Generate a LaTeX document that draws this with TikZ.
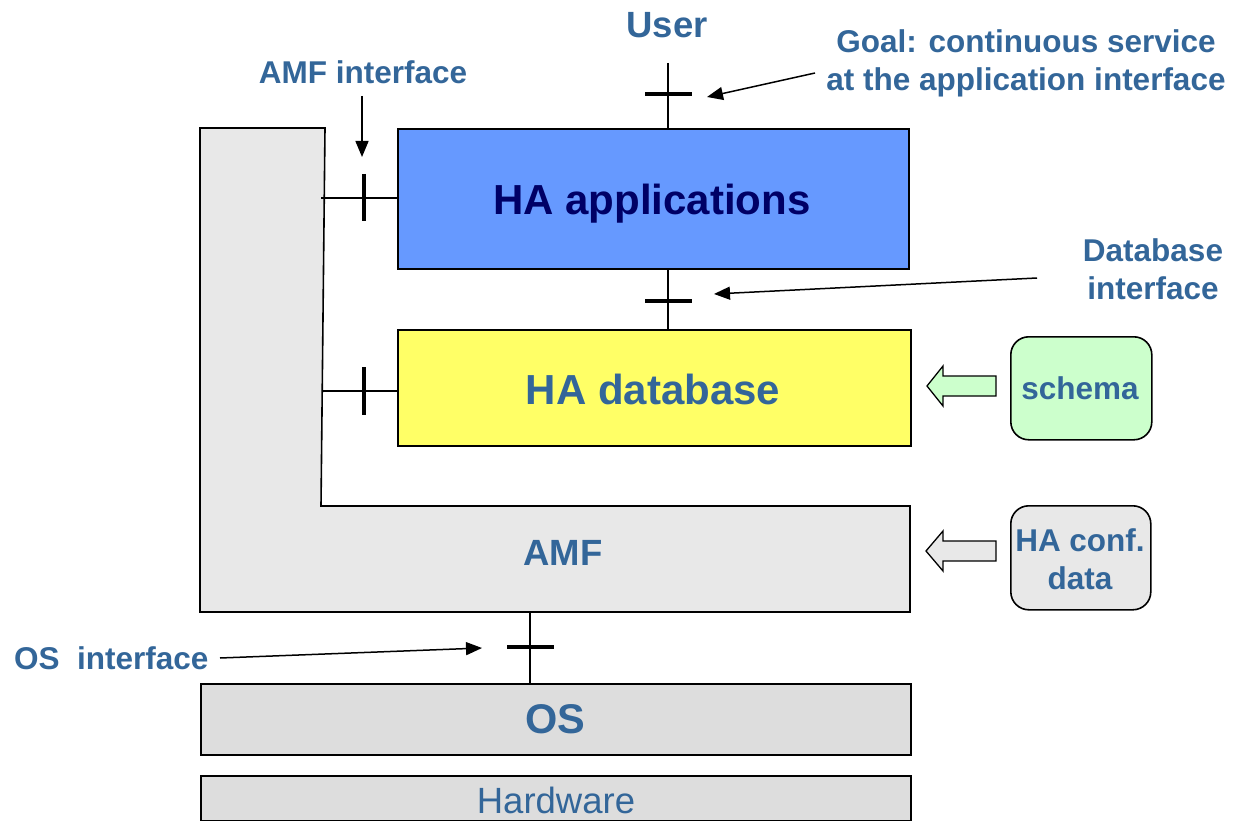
\documentclass[tikz,border=0pt]{standalone}
\usepackage{fontspec}
\setmainfont{Liberation Sans}
\usetikzlibrary{arrows.meta}
\definecolor{lblc}{HTML}{336699}
\definecolor{navyc}{HTML}{000066}
\definecolor{appblue}{HTML}{6699FF}
\definecolor{dbyellow}{HTML}{FFFF66}
\definecolor{amfgray}{HTML}{E8E8E8}
\definecolor{osgray}{HTML}{DDDDDD}
\definecolor{schemagreen}{HTML}{CCFFCC}
\tikzset{
  box/.style={draw, line width=1.6, inner sep=0, anchor=north west},
  lbl/.style={text=lblc, font=\bfseries\fontsize{31.5}{38}\selectfont, align=center, inner sep=0},
  big/.style={font=\bfseries\fontsize{42}{48}\selectfont},
  mid/.style={font=\bfseries\fontsize{36.5}{42}\selectfont},
  ticksym/.style={line width=3.5},
  conn/.style={line width=1.5},
  ptr/.style={line width=1.5, -{Triangle[length=16pt,width=13pt]}},
  blockarrow/.style={line width=1.3},
}
\begin{document}
\begin{tikzpicture}[x=1pt,y=-1pt]
\useasboundingbox (0,0) rectangle (1234,821);

% AMF L-shape
\draw[line width=1.6, fill=amfgray] (200,128) -- (325,128) -- (321,506) -- (910,506) -- (910,612) -- (200,612) -- cycle;
\node[lbl, mid] (amf) at (563,553) {AMF};

% boxes
\node[box, fill=appblue, minimum width=511, minimum height=140] (app) at (397,128) {};
\node[text=navyc, big, inner sep=0] (apptxt) at (652,204) {HA applications};
\node[box, fill=dbyellow, minimum width=513, minimum height=116] (db) at (397,329) {};
\node[lbl, big] (dbtxt) at (653,389) {HA database};
\node[box, fill=osgray, minimum width=710, minimum height=71] (os) at (200,683) {};
\node[lbl, font=\bfseries\fontsize{41.5}{48}\selectfont] (ostxt) at (555,719) {OS};
\node[box, fill=osgray, minimum width=710, minimum height=45] (hw) at (200,775) {};
\node[lbl, font=\fontsize{36.5}{42}\selectfont] (hwtxt) at (556,800) {Hardware};

\node[box, rounded corners=18, fill=schemagreen, minimum width=141, minimum height=103] (schema) at (1010,336) {};
\node[lbl] (schematxt) at (1080,388) {schema};
\node[box, rounded corners=18, fill=amfgray, minimum width=140, minimum height=104] (conf) at (1010,505) {};
\node[lbl] (conftxt) at (1080,559) {HA conf.\\data};

% block arrows
\draw[blockarrow, fill=schemagreen] (927,386) -- (943,366) -- (943,376) -- (996,376) -- (996,396) -- (943,396) -- (943,406) -- cycle;
\draw[blockarrow, fill=amfgray] (926,551) -- (943,531) -- (943,541) -- (996,541) -- (996,561) -- (943,561) -- (943,571) -- cycle;

% labels
\node[lbl, mid] (user) at (667,25) {User};
\node[lbl] (goal) at (1026,63) {Goal: continuous service\\at the application interface};
\node[lbl] (amfif) at (363,72) {AMF interface};
\node[lbl] (dbif) at (1153,269) {Database\\interface};
\node[lbl, anchor=west] (osif) at (14,658) {OS\ \ interface};

% interface coordinates
\coordinate (amfA) at (321,198);
\coordinate (amfB) at (323,391);
\coordinate (uTop) at (668,63);
\coordinate (osX) at (530,612);

% interface connectors
\draw[conn] (amfA) -- (amfA -| app.west);
\draw[ticksym] (364,174) -- (364,221);
\draw[conn] (amfB) -- (amfB -| db.west);
\draw[ticksym] (364,367) -- (364,415);
\draw[conn] (uTop) -- (uTop |- app.north);
\draw[ticksym] (645,94) -- (692,94);
\draw[conn] (uTop |- app.south) -- (uTop |- db.north);
\draw[ticksym] (645,301) -- (692,301);
\draw[conn] (osX) -- (osX |- os.north);
\draw[ticksym] (507,647) -- (554,647);

% pointer arrows
\coordinate (goalS) at (815,73);
\coordinate (goalT) at (707,97);
\draw[ptr] (goalS) -- (goalT);
\coordinate (amfifS) at (362,96);
\coordinate (amfifT) at (362,157);
\draw[ptr] (amfifS) -- (amfifT);
\coordinate (dbifS) at (1037,278);
\coordinate (dbifT) at (714,294);
\draw[ptr] (dbifS) -- (dbifT);
\coordinate (osifS) at (220,658);
\coordinate (osifT) at (482,648);
\draw[ptr] (osifS) -- (osifT);
\end{tikzpicture}
\end{document}
